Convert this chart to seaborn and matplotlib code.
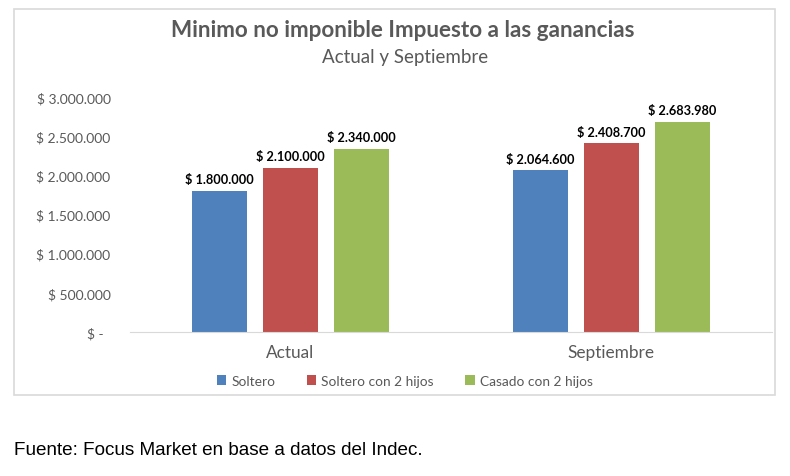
import pandas as pd
import matplotlib.pyplot as plt
import seaborn as sns
from matplotlib.patches import Rectangle

# Data
periodos = ['Actual', 'Septiembre']
tipos = ['Soltero', 'Soltero con 2 hijos', 'Casado con 2 hijos']
soltero = [1800000, 2064600]
soltero_hijos = [2100000, 2408700]
casado_hijos = [2340000, 2683980]
colores = ['#4F81BD', '#C0504D', '#9BBB59']

df = pd.DataFrame({
    'periodo': periodos * 3,
    'tipo': [t for t in tipos for _ in periodos],
    'valor': soltero + soltero_hijos + casado_hijos,
})


def pesos(v):
    if v == 0:
        return '$ -  '
    return '$ ' + f'{v:,.0f}'.replace(',', '.')


sns.set_style('white')
plt.rcParams['font.family'] = ['Lato', 'DejaVu Sans']

fig = plt.figure(figsize=(7.9, 4.77), dpi=100)
ax = fig.add_axes([0.1646, 0.3019, 0.8124, 0.4926])

sns.barplot(data=df, x='periodo', y='valor', hue='tipo', hue_order=tipos,
            palette=colores, width=0.663, gap=0.226, saturation=1,
            edgecolor='none', ax=ax, legend=True)

for cont in ax.containers:
    ax.bar_label(cont, labels=[pesos(b.get_height()) for b in cont],
                 padding=4, fontsize=9.2, fontweight='bold', color='black')

ax.set_ylim(0, 3000000)
ax.set_yticks(range(0, 3000001, 500000))
ax.set_yticklabels([pesos(v) for v in range(0, 3000001, 500000)])
ax.tick_params(axis='y', labelsize=10, labelcolor='#595959', length=0, pad=14)
ax.tick_params(axis='x', labelsize=12.4, labelcolor='#595959', length=0, pad=9)
ax.set_xlabel('')
ax.set_ylabel('')
sns.despine(ax=ax, left=True)
ax.spines['bottom'].set_color('#D9D9D9')

ax.legend(loc='upper center', bbox_to_anchor=(0.428, -0.13), ncol=3, frameon=False,
          fontsize=9.9, handlelength=0.7, handleheight=0.7, handletextpad=0.35,
          columnspacing=2.3, labelcolor='#595959')

fig.text(0.51, 0.937, 'Minimo no imponible Impuesto a las ganancias', ha='center',
         va='center', fontsize=16.2, fontweight='bold', color='#595959')
fig.text(0.513, 0.880, 'Actual y Septiembre', ha='center', va='center',
         fontsize=13.5, color='#595959')

fig.patches.append(Rectangle((14 / 790, 1 - 396 / 477), 761 / 790, 386 / 477,
                             transform=fig.transFigure, fill=False,
                             edgecolor='#D9D9D9', linewidth=1.2))

fig.text(14 / 790, 1 - 451 / 477, 'Fuente: Focus Market en base a datos del Indec.',
         ha='left', va='center', fontsize=13.6, color='black',
         family=['Liberation Sans', 'DejaVu Sans'])

fig.savefig('out.png', dpi=100)
